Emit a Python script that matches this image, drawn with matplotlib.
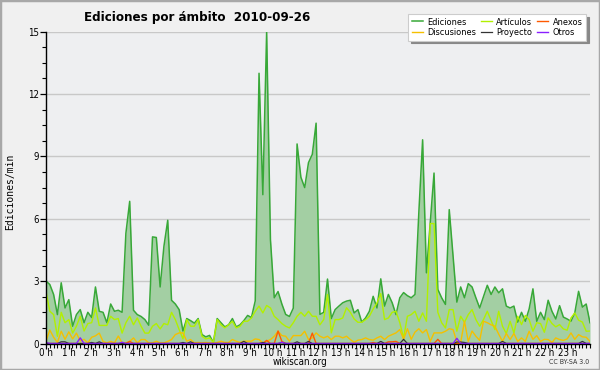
import numpy as np
import matplotlib
matplotlib.use("Agg")
import matplotlib.pyplot as plt
from matplotlib import font_manager as fm
from matplotlib.patches import Rectangle
from matplotlib.ticker import MultipleLocator, FixedLocator

# ---------------- data (10-minute samples, 2010-09-26) ----------------
ediciones = [3.0, 2.84, 2.36, 1.39, 2.92, 1.71, 2.11, 0.83, 1.39, 1.63, 1.0, 1.5,
             1.25, 2.72, 1.55, 1.5, 1.0, 1.9, 1.55, 1.6, 1.5, 5.3, 6.84, 1.6,
             1.39, 1.3, 1.15, 0.88, 5.13, 5.1, 2.72, 4.68, 5.93, 2.08, 1.9, 1.63,
             0.6, 1.2, 1.1, 0.98, 1.2, 0.43, 0.32, 0.39, 0.05, 1.2, 1.0, 0.8,
             0.9, 1.2, 0.8, 0.9, 1.1, 1.35, 1.25, 2.05, 13.0, 7.16, 15.0, 5.0,
             2.2, 2.5, 1.9, 1.4, 1.3, 1.7, 9.6, 8.0, 7.5, 8.7, 9.1, 10.6,
             1.4, 1.5, 3.1, 1.2, 1.63, 1.8, 1.96, 2.04, 2.08, 1.47, 1.63, 1.03,
             1.23, 1.55, 2.27, 1.71, 3.11, 1.8, 2.36, 1.96, 1.39, 2.2, 2.45, 2.3,
             2.2, 2.36, 6.28, 9.8, 3.4, 5.8, 8.2, 2.6, 2.2, 1.88, 6.44, 4.2,
             1.99, 2.72, 2.2, 2.88, 2.72, 2.2, 1.71, 2.25, 2.8, 2.36, 2.72, 2.44,
             2.63, 1.8, 1.71, 1.8, 1.03, 1.5, 1.07, 1.66, 2.63, 1.07, 1.5, 1.15,
             2.08, 1.55, 1.18, 1.82, 1.27, 1.18, 1.07, 1.47, 2.51, 1.75, 1.9, 1.0]

articulos = [2.5, 1.55, 1.39, 0.35, 1.5, 1.0, 1.15, 0.5, 0.83, 1.31, 0.6, 0.96,
             1.0, 1.71, 0.87, 0.87, 0.87, 1.31, 1.15, 1.2, 0.5, 1.0, 1.31, 0.9,
             1.23, 0.83, 0.5, 0.5, 0.83, 0.96, 0.7, 0.96, 0.9, 1.5, 1.15, 0.67,
             0.22, 1.15, 0.83, 0.83, 1.15, 0.35, 0.22, 0.27, 0.05, 1.15, 0.9, 0.75,
             0.9, 1.07, 0.75, 0.83, 1.07, 1.07, 1.23, 1.55, 1.8, 1.47, 1.83, 1.71,
             1.31, 1.15, 0.96, 0.83, 0.75, 1.0, 1.31, 1.5, 1.31, 1.55, 1.31, 1.31,
             0.9, 1.15, 2.36, 0.51, 1.15, 1.15, 1.23, 1.72, 1.5, 1.18, 1.02, 1.02,
             1.15, 1.31, 1.66, 1.95, 2.4, 1.15, 1.23, 1.5, 1.55, 1.0, 0.27, 1.31,
             1.39, 1.55, 1.07, 1.47, 1.07, 5.77, 5.77, 1.5, 1.0, 0.75, 1.63, 1.63,
             0.59, 1.31, 1.02, 1.39, 1.63, 1.15, 0.83, 1.15, 1.55, 1.1, 0.67, 1.55,
             0.83, 0.48, 1.07, 0.51, 1.31, 0.91, 1.35, 1.15, 0.59, 1.0, 0.96, 0.54,
             1.23, 0.96, 0.8, 0.91, 0.7, 0.64, 1.23, 1.47, 1.12, 1.03, 0.59, 0.6]

discusiones = [0.11, 0.65, 0.3, 0.05, 0.59, 0.2, 0.56, 0.22, 0.5, 0.12, 0.2, 0.03,
               0.3, 0.37, 0.5, 0.1, 0.03, 0.1, 0.03, 0.36, 0.03, 0.03, 0.1, 0.27,
               0.03, 0.19, 0.19, 0.03, 0.03, 0.11, 0.03, 0.03, 0.1, 0.19, 0.43, 0.51,
               0.51, 0.11, 0.19, 0.03, 0.05, 0.03, 0.05, 0.03, 0.0, 0.05, 0.11, 0.05,
               0.05, 0.19, 0.11, 0.05, 0.11, 0.11, 0.11, 0.22, 0.19, 0.03, 0.11, 0.19,
               0.35, 0.59, 0.38, 0.35, 0.11, 0.38, 0.38, 0.38, 0.59, 0.19, 0.27, 0.51,
               0.35, 0.27, 0.35, 0.19, 0.35, 0.35, 0.27, 0.35, 0.19, 0.06, 0.16, 0.19,
               0.27, 0.19, 0.16, 0.27, 0.35, 0.19, 0.35, 0.43, 0.51, 0.67, 0.2, 0.71,
               0.2, 0.55, 0.71, 0.51, 0.67, 0.1, 0.51, 0.51, 0.51, 0.59, 0.71, 0.67,
               0.08, 0.05, 1.07, 0.1, 0.6, 0.35, 0.15, 1.07, 1.0, 0.9, 0.83, 0.45,
               0.1, 0.48, 0.19, 0.48, 0.1, 0.27, 0.1, 0.59, 0.2, 0.38, 0.1, 0.2,
               0.19, 0.05, 0.27, 0.19, 0.15, 0.22, 0.51, 0.2, 0.43, 0.32, 0.3, 0.1]

anexos = [0, 0, 0, 0, 0, 0, 0, 0, 0, 0, 0, 0,
          0, 0, 0, 0, 0, 0, 0, 0, 0, 0, 0.1, 0,
          0, 0, 0, 0, 0, 0, 0, 0, 0, 0, 0, 0,
          0, 0, 0, 0, 0, 0, 0, 0, 0, 0, 0, 0,
          0, 0, 0, 0, 0, 0, 0, 0, 0, 0, 0.15, 0,
          0, 0.6, 0.1, 0, 0, 0, 0, 0, 0, 0, 0.5, 0,
          0, 0, 0, 0, 0, 0, 0, 0, 0, 0, 0, 0,
          0, 0, 0.05, 0, 0, 0, 0.08, 0.08, 0.1, 0, 0, 0,
          0, 0, 0, 0, 0, 0, 0, 0.2, 0, 0, 0, 0,
          0, 0, 0, 0, 0, 0, 0, 0, 0, 0, 0, 0,
          0, 0, 0, 0, 0, 0, 0, 0, 0, 0, 0, 0,
          0, 0, 0, 0, 0, 0, 0, 0, 0, 0, 0, 0]

proyecto = [0, 0, 0, 0, 0.08, 0.08, 0, 0, 0, 0, 0, 0,
            0.05, 0, 0.08, 0, 0, 0, 0, 0, 0, 0, 0, 0,
            0, 0, 0, 0, 0, 0, 0, 0, 0, 0, 0, 0,
            0.05, 0, 0.08, 0, 0, 0, 0, 0, 0, 0, 0, 0,
            0, 0, 0, 0, 0.1, 0, 0, 0, 0, 0.05, 0, 0,
            0, 0, 0.05, 0, 0, 0, 0.08, 0, 0, 0.1, 0, 0,
            0, 0, 0, 0, 0, 0, 0, 0, 0, 0, 0, 0,
            0, 0, 0, 0, 0.1, 0, 0, 0, 0, 0, 0.2, 0,
            0, 0, 0, 0, 0, 0, 0, 0, 0, 0, 0, 0,
            0.07, 0.07, 0.05, 0, 0, 0, 0, 0, 0, 0, 0, 0,
            0.1, 0, 0, 0, 0, 0, 0, 0, 0, 0, 0, 0,
            0, 0, 0, 0, 0, 0, 0, 0, 0, 0.1, 0, 0]

otros = [0.05, 0, 0, 0, 0, 0, 0, 0, 0, 0.27, 0, 0,
         0, 0, 0, 0, 0, 0, 0, 0, 0.06, 0, 0, 0,
         0, 0, 0, 0, 0, 0, 0, 0, 0, 0, 0, 0,
         0, 0, 0, 0, 0, 0, 0, 0, 0, 0, 0, 0,
         0, 0, 0, 0, 0, 0, 0, 0, 0, 0, 0, 0,
         0, 0, 0.06, 0, 0, 0, 0, 0, 0, 0, 0, 0,
         0, 0, 0, 0, 0, 0, 0, 0, 0, 0, 0, 0,
         0, 0, 0, 0, 0, 0, 0, 0, 0, 0, 0, 0,
         0, 0, 0, 0, 0, 0, 0, 0, 0, 0, 0, 0,
         0.25, 0, 0, 0, 0, 0, 0, 0, 0, 0, 0, 0,
         0, 0, 0, 0, 0, 0, 0, 0, 0, 0, 0, 0,
         0, 0, 0, 0, 0, 0, 0, 0, 0, 0, 0, 0]

hour_labels = [f"{h} h" for h in range(24)]
y_ticks = [0, 3, 6, 9, 12, 15]
title = "Ediciones por ámbito  2010-09-26"

# ---------------- fonts ----------------
def font_file(part):
    for f in fm.fontManager.ttflist:
        if f.fname.endswith(part):
            return f.fname
    return None

cond = font_file("DejaVuSansCondensed.ttf")
cond_b = font_file("DejaVuSansCondensed-Bold.ttf")

def fp(size, bold=False):
    path = cond_b if bold else cond
    if path:
        return fm.FontProperties(fname=path, size=size)
    return fm.FontProperties(family="DejaVu Sans", size=size * 0.92,
                             weight="bold" if bold else "normal")

# ---------------- figure ----------------
W, H = 600, 370
fig = plt.figure(figsize=(W / 100, H / 100), dpi=100, facecolor="#f0f0f0")
fig.patches.append(Rectangle((0, 0), 1, 1, transform=fig.transFigure, fill=False,
                             edgecolor="#a8a8a8", linewidth=2.5, zorder=0))

x0, x1, y0, y1 = 46, 590, 343.5, 31.7
ax = fig.add_axes([x0 / W, 1 - y0 / H, (x1 - x0) / W, (y0 - y1) / H])
ax.set_facecolor("#eeeff1")

n = len(ediciones)
t = np.linspace(0, 24, n)

ax.fill_between(t, 0, ediciones, color="#a3cfa3", linewidth=0, zorder=2)
l_ed, = ax.plot(t, ediciones, color="#38a838", lw=1.1, zorder=4)
l_ar, = ax.plot(t, articulos, color="#b2f000", lw=1.0, zorder=5)
l_di, = ax.plot(t, discusiones, color="#f5c000", lw=1.0, zorder=5)
l_an, = ax.plot(t, anexos, color="#ff5a00", lw=1.0, zorder=6)
l_pr, = ax.plot(t, proyecto, color="#333333", lw=0.9, zorder=6)
l_ot, = ax.plot(t, otros, color="#8a1fff", lw=1.0, zorder=7)

ax.set_xlim(0, 24)
ax.set_ylim(0, 15)
for s in ("top", "right"):
    ax.spines[s].set_visible(False)
for s in ("left", "bottom"):
    ax.spines[s].set_color("black")
    ax.spines[s].set_linewidth(1.0)
    ax.spines[s].set_zorder(8)

ax.yaxis.set_major_locator(FixedLocator(y_ticks))
ax.yaxis.set_minor_locator(MultipleLocator(0.75))
ax.set_yticklabels([str(v) for v in y_ticks], fontproperties=fp(7))
ax.grid(axis="y", which="major", color="#c8c8c8", lw=1.0, zorder=1)
ax.set_axisbelow(True)

ax.xaxis.set_major_locator(FixedLocator(list(range(24))))
ax.xaxis.set_minor_locator(MultipleLocator(1 / 6))
ax.set_xticklabels(hour_labels, fontproperties=fp(7))
ax.tick_params(axis="both", which="major", direction="out", length=4, width=0.9,
               color="black", pad=1)
ax.tick_params(axis="both", which="minor", direction="out", length=3, width=0.8,
               color="black")
ax.tick_params(axis="x", which="major", length=3.5, pad=-0.5)

fig.text(x0 / W + 0.064, 1 - 17 / H, title, fontproperties=fp(9.5, bold=True),
         ha="left", va="center")
fig.text(10 / W, 1 - 192 / H, "Ediciones/min", family="DejaVu Sans Mono",
         fontsize=7, rotation=90, ha="center", va="center")
fig.text(300 / W, 1 - 362 / H, "wikiscan.org", fontproperties=fp(7),
         ha="center", va="center")
fig.text(589 / W, 1 - 362 / H, "CC BY-SA 3.0", fontproperties=fp(5),
         ha="right", va="center", color="#333333")

handles = [l_ed, l_di, l_ar, l_pr, l_an, l_ot]
labels = ["Ediciones", "Discusiones", "Artículos", "Proyecto", "Anexos", "Otros"]
leg = fig.legend(handles, labels, ncol=3, loc="upper right",
                 bbox_to_anchor=(586 / W, 1 - 14 / H), prop=fp(6.6),
                 frameon=True, fancybox=False, framealpha=1, edgecolor="#cccccc",
                 facecolor="white", shadow={"color": "#888888", "alpha": 1},
                 handlelength=1.2, handletextpad=0.5, columnspacing=0.5,
                 borderpad=0.4, labelspacing=0.15, borderaxespad=0)
leg.get_frame().set_linewidth(0.8)

fig.savefig("out.png", dpi=100, facecolor=fig.get_facecolor())
